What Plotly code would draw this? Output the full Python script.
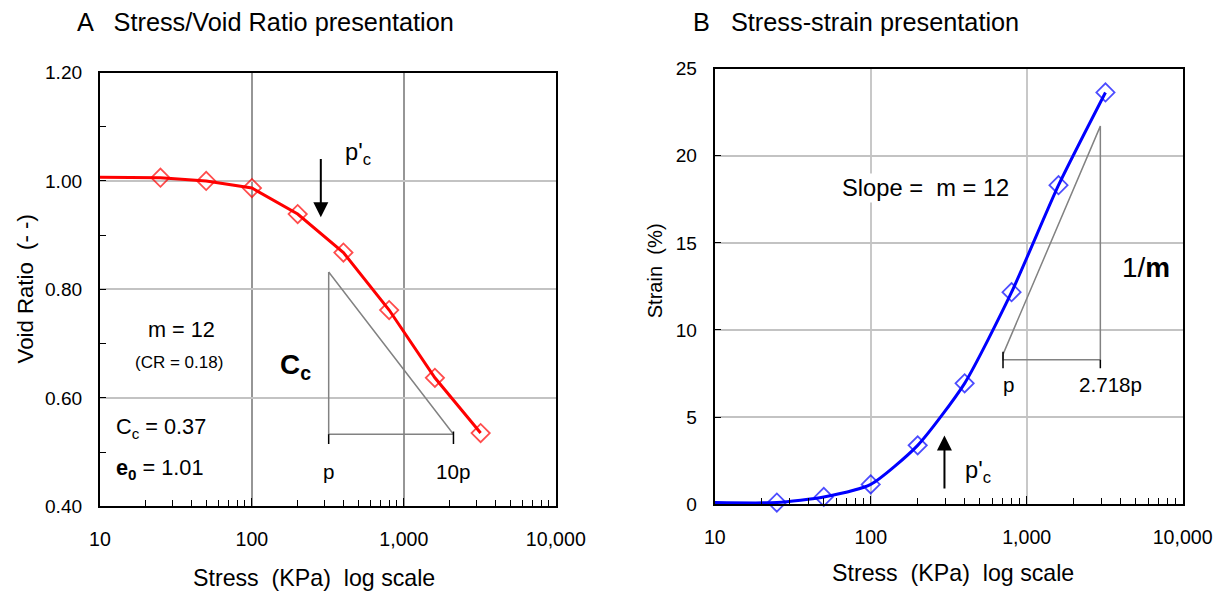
import math
import plotly.graph_objects as go

# chart data
stress = [10, 25, 50, 100, 200, 400, 800, 1600, 3200]
void_ratio = [1.007, 1.006, 1.000, 0.987, 0.939, 0.868, 0.762, 0.637, 0.535]
strain = [0.1, 0.1, 0.42, 1.14, 3.38, 6.94, 12.17, 18.31, 23.63]
marker_sizes = [0, 14, 14, 14, 14, 14, 14, 14, 14]

decades = [10, 100, 1000, 10000]
decade_labels = ["10", "100", "1,000", "10,000"]
void_ticks = [0.40, 0.60, 0.80, 1.00, 1.20]
strain_ticks = [0, 5, 10, 15, 20, 25]

# construction triangles (data coords)
cc_tri_x = [320, 320, 2120, 320]
cc_tri_y = [0.832, 0.533, 0.533, 0.832]
m_tri_x = [705, 2967, 2967, 705, 705]
m_tri_y = [8.6, 21.7, 8.3, 8.3, 8.6]

FONT = "Liberation Sans, Arial, sans-serif"
DARK = "rgb(130,130,130)"

W, H = 1250, 598
# the photographed page comes out slightly shrunk, so lay out a bit larger
SX, AX, SY, AY = 0.9675, 8.0, 0.970, 8.1


def xp(px):
    return (px - AX) / SX / W


def yp(py):
    return 1 - (py - AY) / SY / H


def fs(size):
    return round(size / 0.969, 1)


# every 1..9 multiple gets a small inside tick, only decades are labelled
log_tickvals = []
log_ticktext = []
for i, d in enumerate(decades[:-1]):
    for k in range(1, 10):
        log_tickvals.append(d * k)
        log_ticktext.append(decade_labels[i] if k == 1 else "")
log_tickvals.append(decades[-1])
log_ticktext.append(decade_labels[-1])

fig = go.Figure()

fig.add_trace(go.Scatter(
    x=stress, y=void_ratio, mode="lines+markers", xaxis="x", yaxis="y",
    line=dict(color="red", width=3),
    marker=dict(symbol="diamond-open", size=marker_sizes, color="red", line=dict(width=1.8)),
    showlegend=False, cliponaxis=False,
))
fig.add_trace(go.Scatter(
    x=stress, y=strain, mode="lines+markers", xaxis="x2", yaxis="y2",
    line=dict(color="blue", width=3, shape="spline", smoothing=0.6),
    marker=dict(symbol="diamond-open", size=marker_sizes, color="blue", line=dict(width=1.8)),
    showlegend=False, cliponaxis=False,
))

# triangles
fig.add_trace(go.Scatter(x=cc_tri_x, y=cc_tri_y, mode="lines", xaxis="x", yaxis="y",
                         line=dict(color=DARK, width=1.5), showlegend=False, hoverinfo="skip"))
fig.add_trace(go.Scatter(x=m_tri_x, y=m_tri_y, mode="lines", xaxis="x2", yaxis="y2",
                         line=dict(color=DARK, width=1.5), showlegend=False, hoverinfo="skip"))
# end ticks of the horizontal legs
fig.add_trace(go.Scatter(x=[320, 320, None, 2120, 2120], y=[0.533, 0.515, None, 0.538, 0.515],
                         mode="lines", xaxis="x", yaxis="y",
                         line=dict(color="black", width=1.5), showlegend=False, hoverinfo="skip"))
fig.add_trace(go.Scatter(x=[705, 705, None, 2967, 2967], y=[8.75, 7.8, None, 8.3, 7.8],
                         mode="lines", xaxis="x2", yaxis="y2",
                         line=dict(color="black", width=1.5), showlegend=False, hoverinfo="skip"))

axis_common = dict(
    type="log", showline=True, linecolor="black", linewidth=2, mirror=True,
    ticks="inside", ticklen=6, tickcolor="black", tickwidth=1,
    tickvals=log_tickvals, ticktext=log_ticktext, range=[1, 4],
    tickfont=dict(family=FONT, size=fs(19), color="black"),
    showgrid=False, zeroline=False, ticklabelstandoff=14,
)
yaxis_common = dict(
    showline=True, linecolor="black", linewidth=2, mirror=True,
    ticks="inside", ticklen=6, tickcolor="black",
    tickfont=dict(family=FONT, size=fs(18.5), color="black"),
    showgrid=True, gridcolor="rgb(195,195,195)", gridwidth=2, zeroline=False,
    ticklabelstandoff=12,
)

fig.update_layout(
    width=W, height=H, paper_bgcolor="white", plot_bgcolor="white",
    margin=dict(l=0, r=0, t=0, b=0),
    font=dict(family=FONT, color="black"),
    xaxis=dict(domain=[xp(97), xp(553)], anchor="y",
               minor=dict(tickvals=[100, 1000], showgrid=True, gridcolor="rgb(150,150,150)", gridwidth=2,
                          ticks="inside", ticklen=8, tickcolor="black"),
               **axis_common),
    yaxis=dict(domain=[yp(507), yp(71)], anchor="x", range=[0.40, 1.20],
               tickvals=void_ticks, tickformat=".2f",
               minor=dict(dtick=0.1, ticks="inside", ticklen=6, tickcolor="black", showgrid=False),
               **yaxis_common),
    xaxis2=dict(domain=[xp(712), xp(1180)], anchor="y2",
                minor=dict(tickvals=[100, 1000], showgrid=True, gridcolor="rgb(200,200,200)", gridwidth=2,
                           ticks="inside", ticklen=8, tickcolor="black"),
                **axis_common),
    yaxis2=dict(domain=[yp(505), yp(67)], anchor="x2", range=[0, 25],
                tickvals=strain_ticks, **yaxis_common),
)

ann = []


def txt(text, x, y, size, xref="paper", yref="paper", xanchor="center", **kw):
    if xref == "paper":
        x, y = xp(x), yp(y)
    else:
        x = math.log10(x)
    ann.append(dict(text=text, x=x, y=y, xref=xref, yref=yref, xanchor=xanchor, yanchor="middle",
                    showarrow=False, font=dict(family=FONT, size=fs(size), color="black"), **kw))


# titles
txt("A   Stress/Void Ratio presentation", 263, 20, 24.5)
txt("B   Stress-strain presentation", 853, 20, 24.5)
# axis titles
txt("Stress  (KPa)  log scale", 311, 579, 22.5)
txt("Stress  (KPa)  log scale", 950, 574, 22.5)
txt("Void Ratio  (- -)", 22, 288, 21.5, textangle=-90)
txt("Strain  (%)", 652, 270, 19.5, textangle=-90)

# left panel text
txt("p'<sub>c</sub>", 395, 1.05, 23, xref="x", yref="y", xanchor="left")
txt("m = 12", 179, 329, 21, bgcolor="white")
txt("(CR = 0.18)", 176, 362, 16.5, bgcolor="white")
txt("<b>C<sub>c</sub></b>", 293, 366, 27)
txt("C<sub>c</sub> = 0.37", 111, 428, 21, xanchor="left")
txt("<b>e<sub>0</sub></b> = 1.01", 111, 470, 21, xanchor="left")
txt("p", 320, 0.465, 20, xref="x", yref="y")
txt("10p", 2120, 0.465, 20, xref="x", yref="y")

# right panel text
txt("Slope =  m = 12", 923, 187, 23, bgcolor="white")
txt("p", 770, 6.9, 20, xref="x2", yref="y2", bgcolor="white")
txt("2.718p", 3450, 6.9, 20, xref="x2", yref="y2", bgcolor="white")
txt("1/<b>m</b>", 1143, 267, 27)
txt("p'<sub>c</sub>", 390, 1.85, 23, xref="x2", yref="y2", xanchor="left")

# arrows
ann.append(dict(x=math.log10(284), y=0.933, xref="x", yref="y", ax=0, ay=-58 / SY, text="", showarrow=True,
                arrowhead=2, arrowsize=1.5, arrowwidth=2, arrowcolor="black"))
ann.append(dict(x=math.log10(297), y=3.95, xref="x2", yref="y2", ax=0, ay=53 / SY, text="", showarrow=True,
                arrowhead=2, arrowsize=1.5, arrowwidth=2, arrowcolor="black"))

fig.update_layout(annotations=ann)

fig.write_html("out.html", config={"displayModeBar": False},
               post_script="document.body.style.margin='0';document.body.style.overflow='hidden';")
